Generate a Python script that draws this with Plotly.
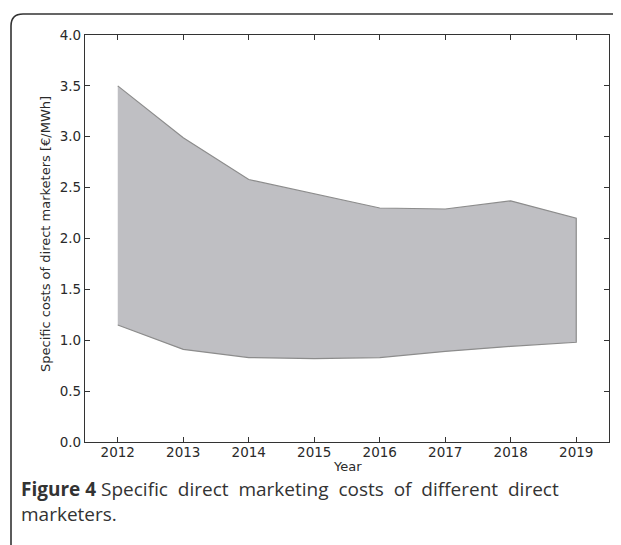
import plotly.graph_objects as go

years = [2012, 2013, 2014, 2015, 2016, 2017, 2018, 2019]
upper_cost = [3.50, 2.99, 2.58, 2.44, 2.30, 2.29, 2.37, 2.20]
lower_cost = [1.15, 0.91, 0.83, 0.82, 0.83, 0.89, 0.94, 0.98]
y_ticks = [0.0, 0.5, 1.0, 1.5, 2.0, 2.5, 3.0, 3.5, 4.0]

W, H = 621, 545
L, R, T, B = 77, 20, 27, 111
pw, ph = W - L - R, H - T - B

def px(x):
    return (x - L) / pw

def py(y):
    return (H - B - y) / ph

fig = go.Figure()
fig.add_trace(go.Scatter(
    x=years + years[::-1],
    y=upper_cost + lower_cost[::-1],
    fill="toself",
    fillcolor="#bfbfc3",
    line=dict(color="#8c8c8c", width=1.2),
    mode="lines",
    hoverinfo="skip",
    showlegend=False,
))

tfont = dict(family="DejaVu Sans", size=13.5, color="#2a2a2a")
axis_common = dict(
    showline=True, linecolor="#333333", linewidth=1.3, mirror="ticks",
    ticks="inside", ticklen=5, tickwidth=1.2, tickcolor="#333333",
    showgrid=False, zeroline=False, tickfont=tfont,
)

fig.update_xaxes(
    range=[2011.5, 2019.5], tickvals=years, ticktext=[str(y) for y in years],
    ticklabelstandoff=-2, **axis_common,
)
fig.update_yaxes(
    range=[0, 4.0], tickvals=y_ticks, ticktext=[f"{v:.1f}" for v in y_ticks],
    **axis_common,
)

title_font = dict(family="DejaVu Sans", size=13, color="#2a2a2a")
fig.add_annotation(x=0.5, y=py(458), xref="paper", yref="paper",
                   xanchor="center", yanchor="middle", showarrow=False,
                   text="Year", font=title_font)
fig.add_annotation(x=px(37), y=py(226), xref="paper", yref="paper",
                   xanchor="center", yanchor="middle", showarrow=False,
                   textangle=-90,
                   text="Specific costs of direct marketers [€/MWh]", font=title_font)

# rounded figure frame (top-left corner visible)
x0, y0, r = 3, 6, 12
path = (f"M {px(x0)},{py(H + 20)} L {px(x0)},{py(y0 + r)} "
        f"Q {px(x0)},{py(y0)} {px(x0 + r)},{py(y0)} L {px(W + 20)},{py(y0)}")
fig.add_shape(type="path", path=path, xref="paper", yref="paper",
              line=dict(color="#333333", width=1.6))

cfont = dict(family="Open Sans", size=19, color="#333333")
fig.add_annotation(x=px(11), y=py(493.5), xref="paper", yref="paper",
                   xanchor="left", yanchor="middle", showarrow=False, align="left",
                   text="<b>Figure 4</b> Specific  direct  marketing  costs  of  different  direct<br>marketers.",
                   font=cfont)

fig.update_layout(
    width=W, height=H, margin=dict(l=L, r=R, t=T, b=B),
    paper_bgcolor="white", plot_bgcolor="white",
)

fig.write_html("out.html")
